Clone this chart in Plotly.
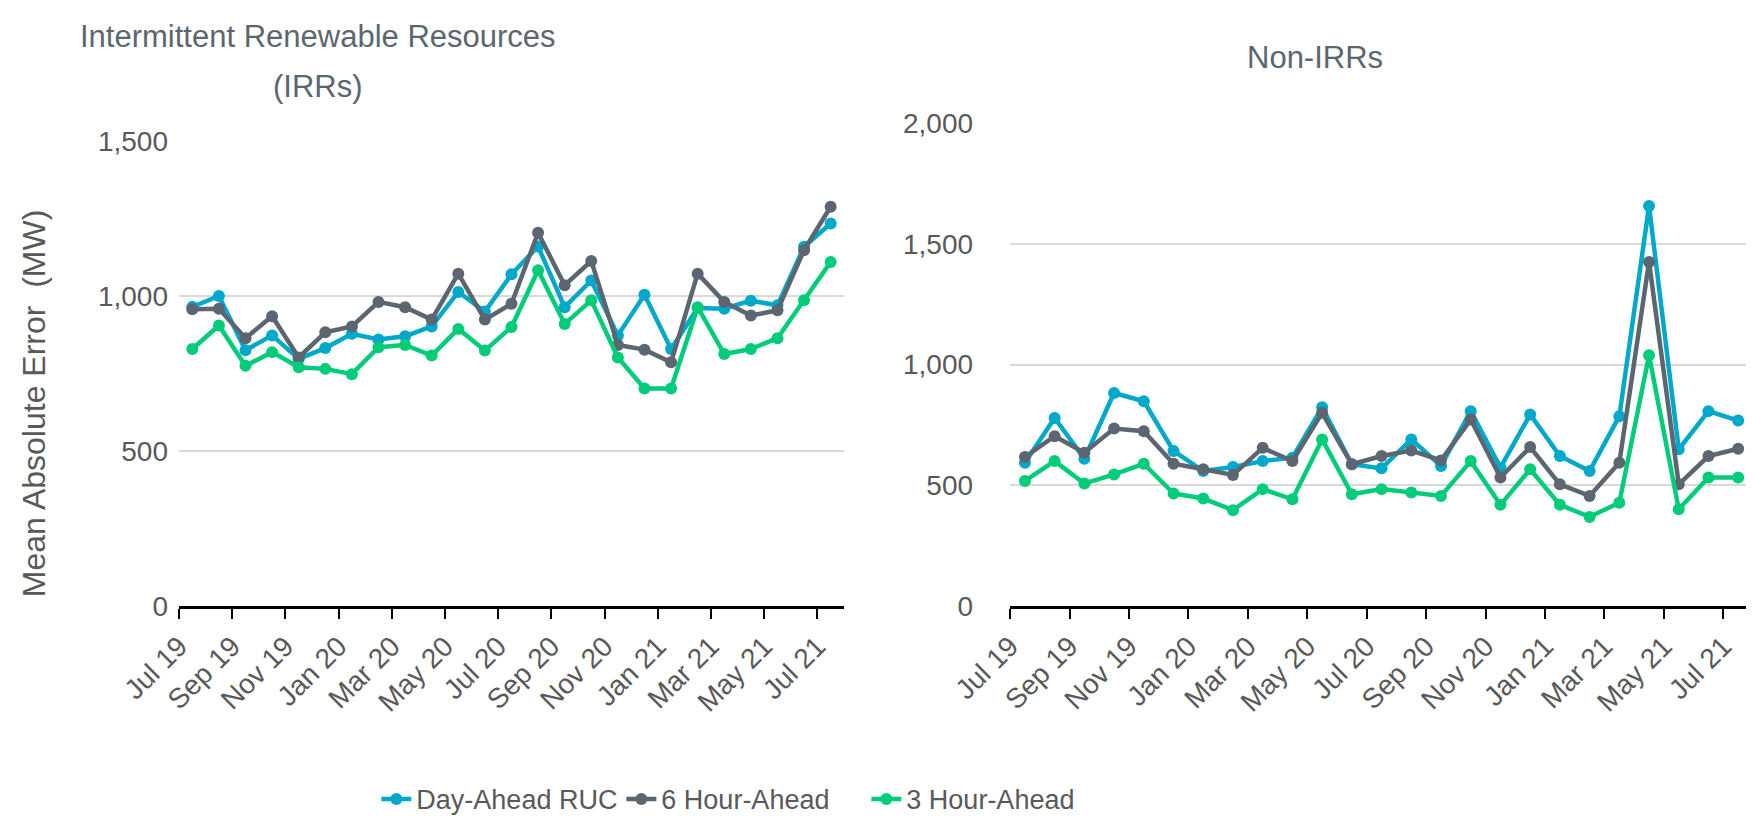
import plotly.graph_objects as go

months = ["Jul 19", "Aug 19", "Sep 19", "Oct 19", "Nov 19", "Dec 19",
          "Jan 20", "Feb 20", "Mar 20", "Apr 20", "May 20", "Jun 20",
          "Jul 20", "Aug 20", "Sep 20", "Oct 20", "Nov 20", "Dec 20",
          "Jan 21", "Feb 21", "Mar 21", "Apr 21", "May 21", "Jun 21", "Jul 21"]

# Intermittent Renewable Resources (IRRs), MW
irr_day_ahead = [965, 1000, 825, 873, 797, 832, 878, 860, 870, 902, 1013, 950,
                 1070, 1160, 964, 1050, 873, 1004, 829, 961, 959, 985, 970, 1159, 1234]
irr_6h = [957, 959, 864, 935, 802, 883, 902, 981, 964, 924, 1072, 924,
          975, 1204, 1035, 1113, 842, 827, 786, 1072, 981, 937, 954, 1148, 1288]
irr_3h = [829, 905, 775, 819, 770, 765, 748, 835, 842, 808, 894, 824,
          900, 1083, 910, 986, 802, 702, 702, 964, 813, 829, 864, 986, 1110]

# Non-IRRs, MW
non_day_ahead = [593, 779, 610, 882, 848, 642, 559, 576, 600, 614, 823, 587,
                 570, 690, 580, 807, 573, 793, 621, 559, 786, 1656, 649, 807, 768]
non_6h = [617, 703, 635, 735, 724, 589, 566, 543, 655, 600, 800, 587,
          621, 644, 603, 772, 532, 658, 504, 456, 593, 1425, 504, 621, 651]
non_3h = [518, 600, 507, 545, 589, 466, 445, 397, 484, 442, 690, 463,
          484, 470, 456, 600, 419, 566, 419, 369, 428, 1038, 401, 532, 532]

series_names = ["Day-Ahead RUC", "6 Hour-Ahead", "3 Hour-Ahead"]
colors = ["#00A8CA", "#5B6670", "#00CC7A"]

x = list(range(len(months)))
tick_pos = [i - 0.5 for i in x[::2]]
tick_txt = months[::2]

fig = go.Figure()

for name, col, yl, yr in zip(series_names, colors,
                              [irr_day_ahead, irr_6h, irr_3h],
                              [non_day_ahead, non_6h, non_3h]):
    fig.add_trace(go.Scatter(x=x, y=yl, name=name, mode="lines+markers",
                             line=dict(color=col, width=4.5),
                             marker=dict(color=col, size=12),
                             xaxis="x", yaxis="y", legendgroup=name))
    fig.add_trace(go.Scatter(x=x, y=yr, name=name, mode="lines+markers",
                             line=dict(color=col, width=4.5),
                             marker=dict(color=col, size=12),
                             xaxis="x2", yaxis="y2", legendgroup=name,
                             showlegend=False))

sans = "Liberation Sans, Arial, sans-serif"
tick_font = dict(family=sans, size=28, color="#595959")
title_font = dict(family=sans, size=31, color="#5B6770")

xcommon = dict(range=[-0.5, 24.5], tickmode="array", tickvals=tick_pos,
               ticktext=tick_txt, tickangle=-45, ticks="outside", ticklen=10,
               tickwidth=2, tickcolor="black", showline=True, linecolor="black",
               linewidth=2.5, showgrid=False, zeroline=False, tickfont=tick_font,
               automargin=False)
ycommon = dict(showgrid=True, gridcolor="#D9D9D9", gridwidth=2, zeroline=False,
               showline=False, tickformat=",", tickfont=tick_font, automargin=False,
               ticks="")

fig.update_layout(
    width=1754, height=833,
    paper_bgcolor="white", plot_bgcolor="white",
    margin=dict(l=0, r=0, t=0, b=0),
    xaxis=dict(domain=[0.0975, 0.4766], anchor="y", **xcommon),
    xaxis2=dict(domain=[0.5713, 0.9949], anchor="y2", **xcommon),
    yaxis=dict(domain=[0.2821, 0.8403], anchor="x", range=[0, 1500],
               tickvals=[0, 500, 1000, 1500], ticklabelstandoff=10, **ycommon),
    yaxis2=dict(domain=[0.2821, 0.8619], anchor="x2", range=[0, 2000],
                tickvals=[0, 500, 1000, 1500, 2000], ticklabelstandoff=36,
                **ycommon),
    legend=dict(orientation="h", x=0.21, xanchor="left", y=0.05, yanchor="middle",
                font=dict(family=sans, size=27, color="#595959"),
                itemwidth=30, entrywidth=200, entrywidthmode="pixels",
                tracegroupgap=0, bgcolor="rgba(0,0,0,0)"),
    showlegend=True,
    annotations=[
        dict(text="Intermittent Renewable Resources", x=0.177, y=0.966,
             xref="paper", yref="paper", xanchor="center", yanchor="middle",
             showarrow=False, font=title_font),
        dict(text="(IRRs)", x=0.177, y=0.906,
             xref="paper", yref="paper", xanchor="center", yanchor="middle",
             showarrow=False, font=title_font),
        dict(text="Non-IRRs", x=0.745, y=0.941, xref="paper", yref="paper",
             xanchor="center", yanchor="middle", showarrow=False, font=title_font),
        dict(text="Mean Absolute Error  (MW)", x=0.0145, y=0.526, xref="paper",
             yref="paper", xanchor="center", yanchor="middle", textangle=-90,
             showarrow=False, font=dict(family=sans, size=32, color="#595959")),
    ],
)

fig.write_html("out.html")
